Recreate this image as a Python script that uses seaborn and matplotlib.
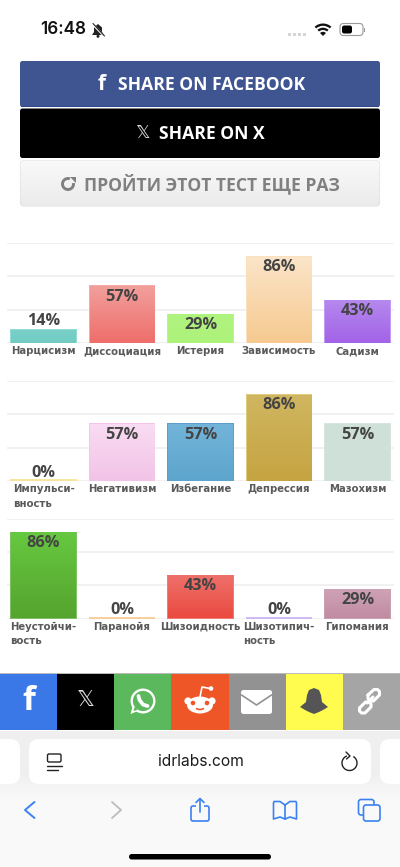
import numpy as np
import matplotlib
matplotlib.use("Agg")
import matplotlib.pyplot as plt
from matplotlib.patches import Rectangle, FancyBboxPatch, Circle, Ellipse, Polygon, Arc, Wedge
import seaborn as sns

sns.set_style("white")
plt.rcParams['font.family'] = ['Open Sans', 'DejaVu Sans']
plt.rcParams['patch.force_edgecolor'] = False

# верхний ряд
cats_1 = ['Нарцисизм', 'Диссоциация', 'Истерия', 'Зависимость', 'Садизм']
vals_1 = [14, 57, 29, 86, 43]
tops_1 = ['#78d0c8', '#f29f9c', '#b0f480', '#fbe4c8', '#b588ee']
bots_1 = ['#72ccc2', '#ee6e6a', '#adf27a', '#f6ca90', '#a363e8']
edges_1 = ['#93dcd4', '#f6aaa8', '#bdf294', '#fbe0c0', '#c29bf2']

# средний ряд
cats_2 = ['Импульси-\nвность', 'Негативизм', 'Избегание', 'Депрессия', 'Мазохизм']
vals_2 = [0, 57, 57, 86, 57]
tops_2 = ['#f6e18e', '#f9dcf3', '#72b4d9', '#d0b660', '#cfe0d8']
bots_2 = ['#f6e18e', '#f2c3e6', '#5da5cc', '#c5a441', '#cfe0d8']
edges_2 = ['#f6e18e', '#f6c4e8', '#5c9fcb', '#e0ca80', '#d6e5de']

# нижний ряд
cats_3 = ['Неустойчи-\nвость', 'Паранойя', 'Шизоидность', 'Шизотипич-\nность', 'Гипомания']
vals_3 = [86, 0, 43, 0, 29]
tops_3 = ['#66c840', '#f9c88a', '#ee706a', '#c8b0f2', '#cfa2b6']
bots_3 = ['#55a42e', '#f9c88a', '#ea4a40', '#c8b0f2', '#c08ca2']
edges_3 = ['#7fc266', '#f9c88a', '#f07a74', '#c8b0f2', '#c9a0b2']

W, H = 400, 867
fig = plt.figure(figsize=(W / 100, H / 100), dpi=100)
bg = fig.add_axes([0, 0, 1, 1])
bg.set_xlim(0, W)
bg.set_ylim(H, 0)
bg.axis('off')


def round_box(x0, y0, x1, y1, r, fc, ec='none', lw=0, z=2):
    box = FancyBboxPatch((x0 + r, y0 + r), x1 - x0 - 2 * r, y1 - y0 - 2 * r,
                         boxstyle=f"round,pad={r},rounding_size={r}",
                         fc=fc, ec=ec, lw=lw, zorder=z)
    bg.add_patch(box)
    return box


def vgrad(ax, patch, c_top, c_bot, ext, z=2):
    a = np.array(matplotlib.colors.to_rgb(c_top))
    b = np.array(matplotlib.colors.to_rgb(c_bot))
    t = np.linspace(0, 1, 64)[:, None, None]
    im = ax.imshow(a + (b - a) * t, extent=ext, aspect='auto', interpolation='nearest', zorder=z)
    if patch is not None:
        im.set_clip_path(patch)
    return im


def stroke(xs, ys, c, lw=1.2, z=5):
    bg.plot(xs, ys, color=c, lw=lw, solid_capstyle='round', solid_joinstyle='round', zorder=z)


def bar_panel(top, base, cats, vals, tops, bots, edges):
    # 1 процент = примерно 1 пиксель
    ax = fig.add_axes([7 / W, 1 - base / H, 387 / W, (base - top) / H])
    ax.patch.set_alpha(0)
    sns.barplot(x=cats, y=vals, color='#cccccc', width=0.853, ax=ax, zorder=3)
    ax.set_yticks([0, 33, 66, 99])
    ax.set_yticklabels([])
    ax.grid(axis='y', color='#f1f1f1', lw=1.4)
    ax.set_axisbelow(True)
    sns.despine(ax=ax, left=True, bottom=True, top=True, right=True)
    ax.tick_params(axis='x', length=0, pad=2.5)
    ax.tick_params(axis='y', length=0)
    for lab in ax.get_xticklabels():
        lab.set_fontsize(7.3)
        lab.set_fontweight('bold')
        lab.set_family('DejaVu Sans')
        lab.set_color('#5a5a5a')
        lab.set_multialignment('left')
        lab.set_linespacing(1.55)
    # рамка = сам столбик, градиент поверх него с отступом в 1 px
    for p, v, ct, cb, ce in zip(ax.patches, vals, tops, bots, edges):
        x0, w = p.get_x(), p.get_width()
        p.set_facecolor(ce)
        p.set_edgecolor('none')
        p.set_linewidth(0)
        if v > 0:
            inset = 1 / 78.5
            vgrad(ax, None, ct, cb, (x0 + inset, x0 + w - inset, 0, v - 1.2), z=3.5)
        else:
            ax.hlines(0.6, x0, x0 + w, color=ce, lw=1.2, zorder=4, clip_on=False)
        cx = x0 + w / 2
        offset = -8 if v >= 25 else 6.0
        ax.annotate(f'{v}%', (cx, v), xytext=(0, offset), textcoords='offset points',
                    ha='center', va='center', fontsize=11.7, fontweight='bold',
                    color='#444444', zorder=6)
    ax.set_xlim(-0.465, 4.465)
    ax.set_ylim(0, 99)
    return ax


bar_panel(243, 343, cats_1, vals_1, tops_1, bots_1, edges_1)
bar_panel(381, 481, cats_2, vals_2, tops_2, bots_2, edges_2)
bar_panel(518.5, 618.5, cats_3, vals_3, tops_3, bots_3, edges_3)

# статус-бар
bg.text(40, 30, '16:48', fontsize=12.3, family='Inter', fontweight='semibold',
        color='#111111', ha='left', va='center')
bell = Polygon([(92, 35), (94, 32), (94, 27.5), (98, 24), (102, 27.5), (102, 32), (104, 35)],
               fc='#222222', zorder=5)
bg.add_patch(bell)
bg.add_patch(Circle((98, 36.3), 1.5, fc='#222222', zorder=5))
stroke([92, 104.5], [23.5, 36.5], 'white', 1.5, 6)
stroke([93, 104.5], [23.5, 36], '#222222', 0.8, 7)
for i in range(4):
    bg.add_patch(Rectangle((288 + i * 5, 33), 3.4, 3.4, fc='#d5d5d5', zorder=5))
# ось y перевернута, поэтому углы снизу
bg.add_patch(Wedge((323, 36), 12.5, 228, 312, width=2.3, fc='#111111', zorder=5))
bg.add_patch(Wedge((323, 36), 8.3, 228, 312, width=2.3, fc='#111111', zorder=5))
bg.add_patch(Wedge((323, 36), 4.2, 225, 315, fc='#111111', zorder=5))
round_box(340, 23.5, 363, 35.5, 3.5, 'white', '#9a9a9a', 0.8, 4)
round_box(342, 25.5, 352, 33.5, 2.2, '#000000', z=5)
bg.add_patch(Rectangle((364, 28), 1.2, 3.5, fc='#9a9a9a', zorder=5))

# кнопки
round_box(20, 61, 380, 107, 2.5, '#3f5592', z=2)
bg.add_patch(Rectangle((21, 106), 358, 1.2, fc='#2f4b8d', zorder=3))
round_box(20, 108.5, 380, 158, 2.5, '#000000', z=2)
retry = round_box(20.5, 161, 379.5, 206, 3, '#f0f0f0', '#dddddd', 0.8, z=2)
vgrad(bg, retry, '#f9f9f9', '#ebebeb', (20, 380, 206, 161), z=2.5)
bg.set_xlim(0, W)
bg.set_ylim(H, 0)
bg.text(102, 84.5, 'f', fontsize=15, fontweight='bold', color='white', ha='center', va='center', zorder=6)
bg.text(212, 84.5, 'SHARE ON FACEBOOK', fontsize=12.6, fontweight='bold', color='white',
        ha='center', va='center', zorder=6)
bg.text(142.5, 133, '𝕏', fontsize=13, family='DejaVu Sans', color='#dddddd', ha='center', va='center', zorder=6)
bg.text(212, 134, 'SHARE ON X', fontsize=12.6, fontweight='bold', color='white',
        ha='center', va='center', zorder=6)
bg.add_patch(Arc((68, 184), 11, 11, theta1=-10, theta2=290, color='#808080', lw=2.1, zorder=6))
bg.add_patch(Polygon([(70, 177), (75.5, 177), (75.5, 183)], fc='#808080', zorder=6))
bg.text(212, 183.5, 'ПРОЙТИ ЭТОТ ТЕСТ ЕЩЕ РАЗ', fontsize=12.6, fontweight='bold', color='#808080',
        ha='center', va='center', zorder=6)

# полоса соцсетей
row_colors = ['#3b78e7', '#000000', '#5cb85c', '#ee5527', '#929292', '#fffc4f', '#a5a5a5']
for i, col in enumerate(row_colors):
    bg.add_patch(Rectangle((i * 400 / 7, 673), 400 / 7 + 0.3, 57, fc=col, zorder=2))
bg.add_patch(Rectangle((0, 672.5), 400, 1, fc='#bbbbbb', zorder=3))
bg.text(28.5, 701, 'f', fontsize=24, fontweight='bold', color='white', ha='center', va='center', zorder=6)
bg.text(85.5, 700.5, '𝕏', fontsize=16, family='DejaVu Sans', color='#dddddd', ha='center', va='center', zorder=6)
# whatsapp
bg.add_patch(Circle((143, 701), 11.3, fc='none', ec='white', lw=1.7, zorder=6))
bg.add_patch(Polygon([(130.5, 714), (133, 705), (138, 711)], fc='white', zorder=6))
bg.add_patch(Polygon([(133.5, 711), (134.8, 706.5), (137.5, 710)], fc='#5cb85c', zorder=7))
stroke([138.5, 139.5, 143, 147.5], [696, 700, 704.5, 706], 'white', 2.7, 7)
# reddit
bg.add_patch(Ellipse((200, 705), 26, 17, fc='white', zorder=6))
bg.add_patch(Circle((188, 701), 3.6, fc='white', zorder=6))
bg.add_patch(Circle((212, 701), 3.6, fc='white', zorder=6))
bg.add_patch(Circle((193, 703), 2.3, fc='#ee5527', zorder=7))
bg.add_patch(Circle((207, 703), 2.3, fc='#ee5527', zorder=7))
bg.add_patch(Arc((200, 706), 10, 7, theta1=30, theta2=150, color='#ee5527', lw=1.2, zorder=7))
stroke([200, 202, 210], [697, 687, 688.5], 'white', 1.2, 6)
bg.add_patch(Circle((211, 688.5), 2.3, fc='white', zorder=6))
# письмо
round_box(241, 690, 272, 714, 2.5, 'white', z=6)
stroke([241.5, 256.5, 271.5], [695, 705, 695], '#929292', 1.2, 7)
# snapchat
bg.add_patch(Polygon([(300, 707), (306, 702), (307, 695), (309, 690), (314, 688), (319, 690), (321, 695),
                      (322, 702), (328, 707), (323, 710), (319, 712), (314, 714), (309, 712), (305, 710)],
                     fc='#555555', zorder=6))
# ссылка
stroke([367, 373], [703, 697], 'white', 2.2, 6)
link_a = [(359.5, 708), (365.5, 702), (369, 702), (371, 704), (371, 707), (365, 713), (361.5, 713), (359.5, 711), (359.5, 708)]
stroke([p[0] for p in link_a], [p[1] for p in link_a], 'white', 2.2, 6)
link_b = [(368, 695), (374, 689.5), (377.5, 689.5), (379.5, 691.5), (379.5, 695), (373.5, 701), (370, 701), (368, 698.5), (368, 695)]
stroke([p[0] for p in link_b], [p[1] for p in link_b], 'white', 2.2, 6)

# панель браузера
bg.add_patch(Rectangle((0, 730.5), 400, 55, fc='#efefef', zorder=1))
vgrad(bg, None, '#eeeeee', '#f9f9f9', (0, 400, 800, 770), z=1.1)
bg.add_patch(Rectangle((0, 800), 400, 67, fc='#f9f9f9', zorder=1))
bg.set_xlim(0, W)
bg.set_ylim(H, 0)
round_box(-20, 739, 20, 784, 10, 'white', z=3)
round_box(29, 739, 371, 784, 10, 'white', z=3)
round_box(380, 739, 420, 784, 10, 'white', z=3)
bg.text(200.5, 762, 'idrlabs.com', fontsize=11.2, family='Inter', color='#1c1c1c',
        ha='center', va='center', zorder=6)
round_box(47.5, 754, 61, 762, 1.5, 'none', '#222222', 1.0, 6)
stroke([47, 62], [765.5, 765.5], '#222222', 1.0, 6)
stroke([47, 58], [770, 770], '#222222', 1.0, 6)
bg.add_patch(Arc((349.5, 763), 15, 15, theta1=-60, theta2=250, color='#222222', lw=1.0, zorder=6))
stroke([346, 350, 346.5], [752, 756, 759], '#222222', 1.0, 6)

# нижние иконки
BLUE = '#3a82f0'
stroke([34.5, 25, 34.5], [802, 810, 818], BLUE, 1.4)
stroke([112, 121, 112], [802, 810, 818], '#bcbcbc', 1.3)
round_box(191, 806, 209, 821, 2, 'none', BLUE, 1.2, 5)
bg.add_patch(Rectangle((196, 802), 8, 6, fc='#f9f9f9', zorder=5.5))
stroke([200, 200], [799, 812], BLUE, 1.2, 6)
stroke([196, 200, 204], [802.5, 798.5, 802.5], BLUE, 1.2, 6)
stroke([285, 285], [805, 819], BLUE, 1.2)
stroke([285, 280, 274, 273.5, 273.5, 280, 285], [805, 801.5, 801.5, 803, 819, 817, 819], BLUE, 1.2)
stroke([285, 290, 296, 296.5, 296.5, 290, 285], [805, 801.5, 801.5, 803, 819, 817, 819], BLUE, 1.2)
round_box(358.5, 799.5, 374, 815, 2.5, '#f9f9f9', BLUE, 1.2, 5)
round_box(363.5, 805, 380, 821, 2.5, '#f9f9f9', BLUE, 1.2, 5.5)
round_box(129, 854, 271, 859.5, 2.7, '#000000', z=6)

fig.savefig('out.png', dpi=100)
